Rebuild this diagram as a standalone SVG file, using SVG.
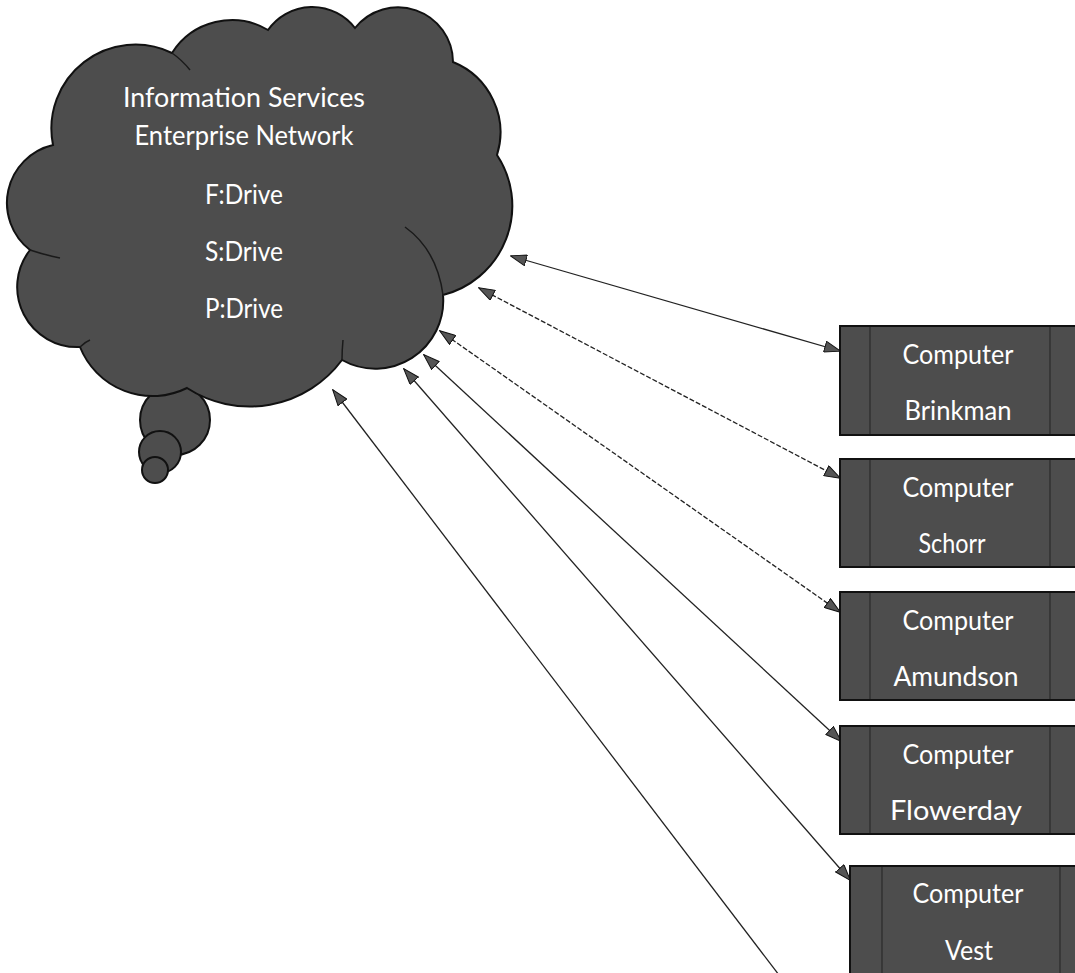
<svg xmlns="http://www.w3.org/2000/svg" width="1075" height="973" viewBox="0 0 1075 973">
<defs>
<style>
.shape{fill:#4d4d4d;stroke:#111;stroke-width:2}
.inner{fill:none;stroke:#1a1a1a;stroke-width:1.5}
.div{stroke:#2a2a2a;stroke-width:1.2}
.t{fill:#fff;font-family:Lato,"Open Sans","Liberation Sans",sans-serif;font-size:26px;text-anchor:middle}
.c{fill:none;stroke:#222;stroke-width:1.3}
.dash{stroke-dasharray:5 2}
</style>
<marker id="ah" viewBox="0 0 17 12" refX="16" refY="6" markerWidth="17" markerHeight="12" markerUnits="userSpaceOnUse" orient="auto-start-reverse">
<path d="M0.5,0.5 L16.5,6 L0.5,11.5 Z" fill="#555" stroke="#111" stroke-width="1"/>
</marker>
</defs>
<rect width="1075" height="973" fill="#fff"/>

<g id="cloud">
<circle class="shape" cx="175" cy="420" r="35"/>
<circle class="shape" cx="160" cy="452" r="21"/>
<circle class="shape" cx="155" cy="470" r="13"/>
<path class="shape" d="M53,145 A84,84 0 0 1 172,53 A71,71 0 0 1 268,30 A54,54 0 0 1 355,28 A55,55 0 0 1 453,62 A76,76 0 0 1 497,155 A92,92 0 0 1 443,295 A68,68 0 0 1 342,360 A115,115 0 0 1 187,388 A78,78 0 0 1 80,347 A60,60 0 0 1 30,250 A59.5,59.5 0 0 1 53,145 Z"/>
<path class="inner" d="M443,295 Q437,250 405,227"/>
<path class="inner" d="M30,250 Q45,255 60,258"/>
<path class="inner" d="M80,347 Q85,342 90,340"/>
<path class="inner" d="M172,53 Q182,60 190,70"/>
<path class="inner" d="M342,360 Q342,350 343,340"/>
<text class="t" x="244" y="107" textLength="242" lengthAdjust="spacingAndGlyphs">Information Services</text>
<text class="t" x="244" y="145" textLength="219" lengthAdjust="spacingAndGlyphs">Enterprise Network</text>
<text class="t" x="244" y="204" textLength="78" lengthAdjust="spacingAndGlyphs">F:Drive</text>
<text class="t" x="244" y="261" textLength="78" lengthAdjust="spacingAndGlyphs">S:Drive</text>
<text class="t" x="244" y="318" textLength="78" lengthAdjust="spacingAndGlyphs">P:Drive</text>
</g>

<g id="connectors">
<line class="c" x1="511" y1="256" x2="840" y2="351" marker-start="url(#ah)" marker-end="url(#ah)"/>
<line class="c dash" x1="479" y1="288" x2="840" y2="478" marker-start="url(#ah)" marker-end="url(#ah)"/>
<line class="c dash" x1="440" y1="331" x2="840" y2="612" marker-start="url(#ah)" marker-end="url(#ah)"/>
<line class="c" x1="424" y1="355" x2="841" y2="741" marker-start="url(#ah)" marker-end="url(#ah)"/>
<line class="c" x1="404" y1="369" x2="850" y2="880" marker-start="url(#ah)" marker-end="url(#ah)"/>
<line class="c" x1="333" y1="390" x2="779" y2="975" marker-start="url(#ah)"/>
</g>

<g id="brinkman">
<rect class="shape" x="840" y="326" width="240" height="109"/>
<line class="div" x1="870" y1="327" x2="870" y2="434"/>
<line class="div" x1="1050" y1="327" x2="1050" y2="434"/>
<text class="t" x="958" y="364" textLength="111" lengthAdjust="spacingAndGlyphs">Computer</text>
<text class="t" x="958" y="420" textLength="107" lengthAdjust="spacingAndGlyphs">Brinkman</text>
</g>
<g id="schorr">
<rect class="shape" x="840" y="459" width="240" height="108"/>
<line class="div" x1="870" y1="460" x2="870" y2="566"/>
<line class="div" x1="1050" y1="460" x2="1050" y2="566"/>
<text class="t" x="958" y="497" textLength="111" lengthAdjust="spacingAndGlyphs">Computer</text>
<text class="t" x="952" y="553" textLength="67" lengthAdjust="spacingAndGlyphs">Schorr</text>
</g>
<g id="amundson">
<rect class="shape" x="840" y="592" width="240" height="108"/>
<line class="div" x1="870" y1="593" x2="870" y2="699"/>
<line class="div" x1="1050" y1="593" x2="1050" y2="699"/>
<text class="t" x="958" y="630" textLength="111" lengthAdjust="spacingAndGlyphs">Computer</text>
<text class="t" x="956" y="686" textLength="125" lengthAdjust="spacingAndGlyphs">Amundson</text>
</g>
<g id="flowerday">
<rect class="shape" x="840" y="726" width="240" height="108"/>
<line class="div" x1="870" y1="727" x2="870" y2="833"/>
<line class="div" x1="1050" y1="727" x2="1050" y2="833"/>
<text class="t" x="958" y="764" textLength="111" lengthAdjust="spacingAndGlyphs">Computer</text>
<text class="t" x="956" y="820" textLength="132" lengthAdjust="spacingAndGlyphs">Flowerday</text>
</g>
<g id="vest">
<rect class="shape" x="850" y="866" width="230" height="112"/>
<line class="div" x1="882" y1="867" x2="882" y2="973"/>
<line class="div" x1="1060" y1="867" x2="1060" y2="973"/>
<text class="t" x="968" y="903" textLength="111" lengthAdjust="spacingAndGlyphs">Computer</text>
<text class="t" x="969" y="960" textLength="48" lengthAdjust="spacingAndGlyphs">Vest</text>
</g>
</svg>
